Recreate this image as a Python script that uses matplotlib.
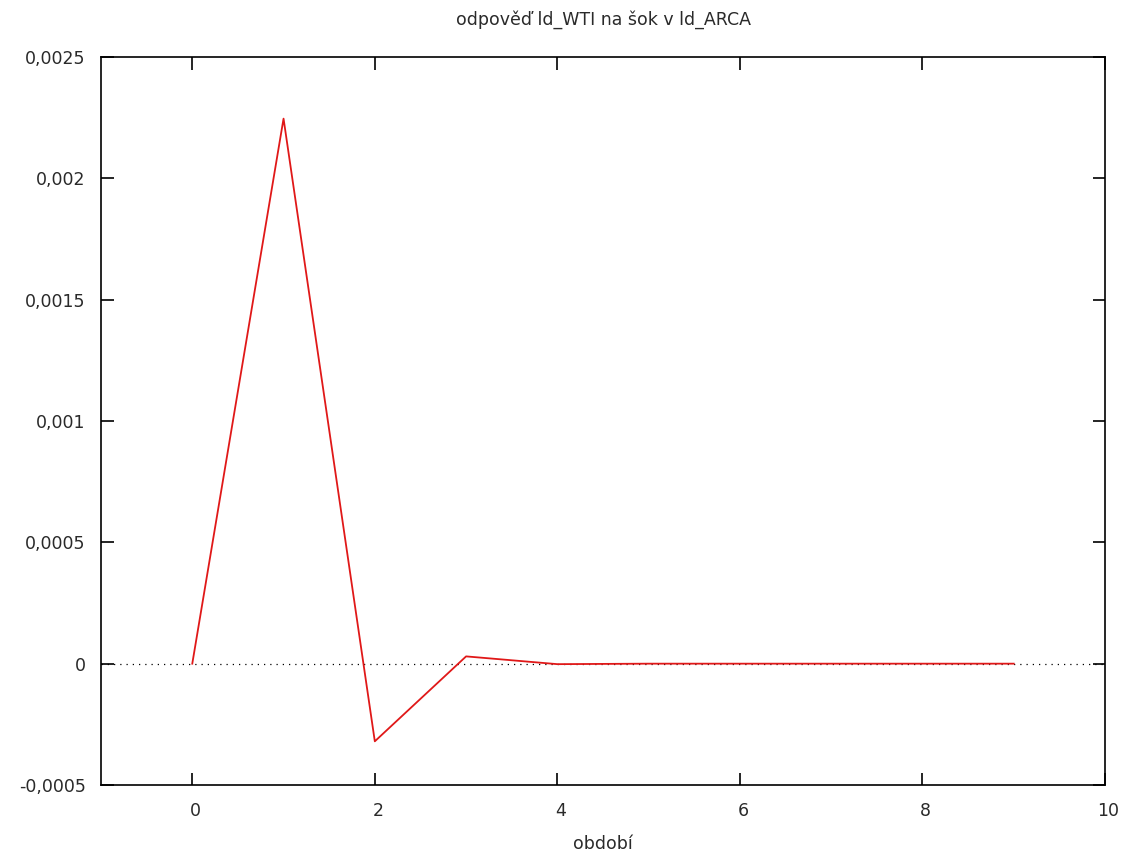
import numpy as np
import matplotlib.pyplot as plt
import matplotlib.transforms as mtransforms
from matplotlib.ticker import FuncFormatter

# impulse response of ld_WTI to a shock in ld_ARCA
periods = [0, 1, 2, 3, 4, 5, 6, 7, 8, 9]
response = [0.0, 0.002246, -0.00032, 0.00003, -0.000002, 0.0, 0.0, 0.0, 0.0, 0.0]

y_ticks = [-0.0005, 0.0, 0.0005, 0.001, 0.0015, 0.002, 0.0025]
x_ticks = [0, 2, 4, 6, 8, 10]

plt.rcParams['font.family'] = ['DejaVu Sans']

fig = plt.figure(figsize=(11.25, 8.52), dpi=100)
ax = fig.add_axes([101 / 1125, 1 - 785 / 852, (1105 - 101) / 1125, (785 - 57) / 852])

ax.axhline(0, color='black', linestyle=(0, (1, 4)), linewidth=0.9)
ax.plot(periods, response, color='#e01818', linewidth=1.3)

ax.set_xlim(-1, 10)
ax.set_ylim(-0.0005, 0.0025)
ax.set_xticks(x_ticks)
ax.set_yticks(y_ticks)


def comma_fmt(v, pos):
    if abs(v) < 1e-12:
        return '0'
    return ('%g' % v).replace('.', ',')


ax.yaxis.set_major_formatter(FuncFormatter(comma_fmt))
ax.tick_params(direction='in', length=9, width=1.2, top=True, right=True,
               labelsize=12.5, labelcolor='#2a2a2a')
ax.tick_params(axis='x', pad=12)
ax.tick_params(axis='y', pad=11)
# gnuplot puts the x labels a hair right of the ticks
shift = mtransforms.ScaledTranslation(3 / 100, 0, fig.dpi_scale_trans)
for lbl in ax.get_xticklabels():
    lbl.set_transform(lbl.get_transform() + shift)
for s in ax.spines.values():
    s.set_linewidth(1.2)

ax.set_title('odpověď ld_WTI na šok v ld_ARCA', fontsize=12.5, color='#2a2a2a', pad=23)
ax.set_xlabel('období', fontsize=12.5, color='#2a2a2a', labelpad=11)

fig.savefig('out.png', dpi=100)
